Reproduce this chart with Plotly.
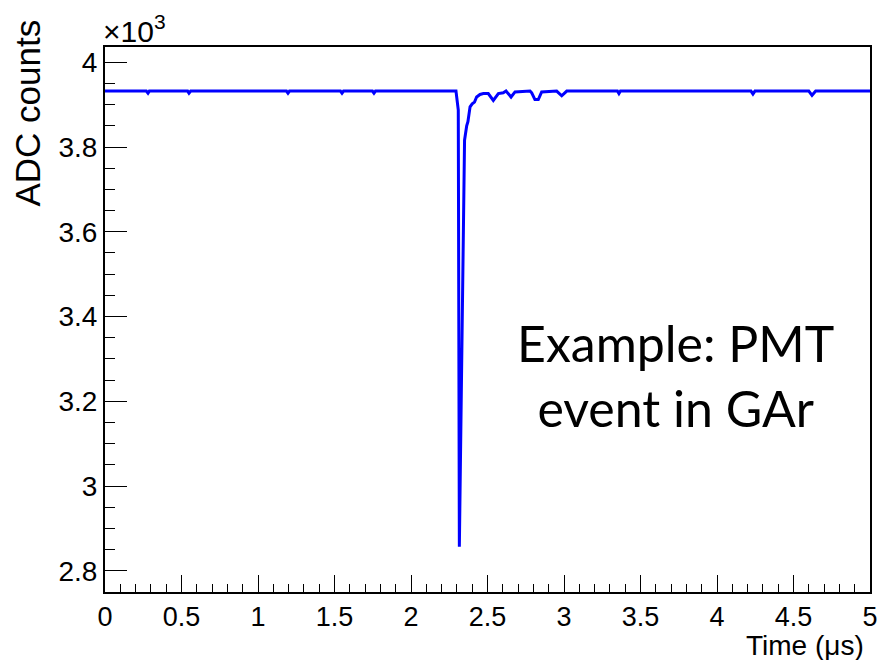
import plotly.graph_objects as go

# Waveform samples (time in microseconds, ADC counts)
time_us = [0.00, 0.27, 0.281, 0.29, 0.54, 0.549, 0.56, 1.186, 1.196, 1.206,
           1.539, 1.549, 1.559, 1.748, 1.758, 1.768,
           2.294, 2.309, 2.316, 2.350, 2.364, 2.372, 2.386, 2.400, 2.415, 2.429,
           2.451, 2.473, 2.505, 2.538, 2.571, 2.603, 2.621, 2.654, 2.680,
           2.778, 2.789, 2.810, 2.832, 2.854, 2.952, 2.985, 3.018,
           3.349, 3.359, 3.369, 4.222, 4.235, 4.248, 4.600, 4.621, 4.645, 5.00]
adc = [3932, 3932, 3927, 3932, 3932, 3927, 3932, 3932, 3927, 3932,
       3932, 3927, 3932, 3932, 3927, 3932,
       3932, 3887, 2857, 3816, 3850, 3860, 3895, 3902, 3906, 3918,
       3924, 3926, 3926, 3910, 3926, 3928, 3932, 3918, 3930,
       3932, 3928, 3912, 3912, 3930, 3932, 3921, 3932,
       3932, 3926, 3932, 3932, 3925, 3932, 3932, 3922, 3932, 3932]

y_tickvals = [2800, 3000, 3200, 3400, 3600, 3800, 4000]
y_ticktext = ["2.8", "3", "3.2", "3.4", "3.6", "3.8", "4"]
x_tickvals = [0, 0.5, 1, 1.5, 2, 2.5, 3, 3.5, 4, 4.5, 5]
x_ticktext = ["0", "0.5", "1", "1.5", "2", "2.5", "3", "3.5", "4", "4.5", "5"]

FONT = "Liberation Sans, Arial, sans-serif"

fig = go.Figure()
fig.add_trace(go.Scatter(x=time_us, y=adc, mode="lines",
                         line=dict(color="#0000ff", width=3),
                         showlegend=False, hoverinfo="skip"))

fig.update_layout(
    width=877, height=660,
    margin=dict(l=105, r=7, t=47, b=68, autoexpand=False),
    paper_bgcolor="white", plot_bgcolor="white",
    font=dict(family=FONT, color="black", size=27),
    xaxis=dict(range=[0, 5], tickvals=x_tickvals, ticktext=x_ticktext,
               ticks="inside", ticklen=17, tickwidth=1, tickcolor="black",
               showline=True, linecolor="black", linewidth=2, mirror=True,
               showgrid=False, zeroline=False, ticklabeloverflow="allow",
               tickfont=dict(size=27, family=FONT),
               minor=dict(dtick=0.1, ticks="inside", ticklen=8, tickwidth=1,
                          tickcolor="black", showgrid=False)),
    yaxis=dict(range=[2750, 4036], tickvals=y_tickvals, ticktext=y_ticktext,
               ticks="inside", ticklen=22, tickwidth=1, tickcolor="black",
               showline=True, linecolor="black", linewidth=2, mirror=True,
               showgrid=False, zeroline=False,
               tickfont=dict(size=28, family=FONT),
               minor=dict(tick0=2800, dtick=50, ticks="inside", ticklen=10, tickwidth=1,
                          tickcolor="black", showgrid=False)),
)

annotations = [
    dict(text="ADC counts", textangle=-90, xref="paper", yref="paper",
         x=0, y=1, xanchor="center", yanchor="top", xshift=-78, yshift=29,
         showarrow=False, font=dict(size=35, family=FONT)),
    dict(text="Time (μs)", xref="paper", yref="paper", x=1, y=0,
         xanchor="right", yanchor="top", xshift=-4, yshift=-36,
         showarrow=False, font=dict(size=28, family=FONT)),
    dict(text="×10<sup>3</sup>", xref="paper", yref="paper", x=0, y=1,
         xanchor="left", yanchor="bottom", xshift=-4, yshift=-3,
         showarrow=False, font=dict(size=30, family=FONT)),
    dict(text="Example: PMT<br>event in GAr", xref="paper", yref="paper",
         x=(675 - 105) / 765, y=(592 - 375) / 545, xanchor="center", yanchor="middle",
         showarrow=False, align="center",
         font=dict(size=50, family="Lato, Noto Sans, sans-serif")),
]
fig.update_layout(annotations=annotations)

fig.write_html("out.html")
